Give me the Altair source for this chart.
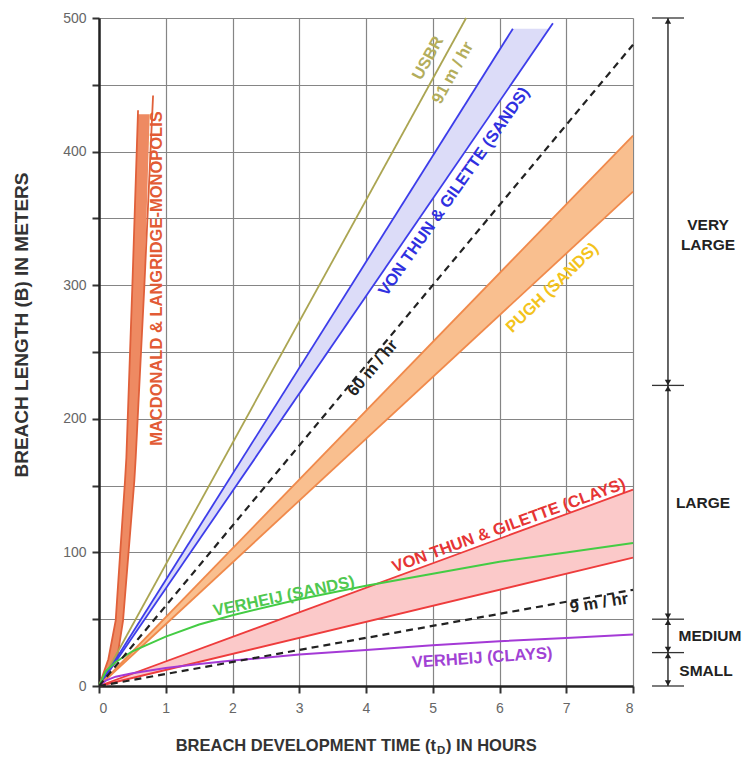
import altair as alt
import pandas as pd

# ---------------------------------------------------------------------------
# Breach length (m) against breach development time (hours)
# ---------------------------------------------------------------------------

# USBR relation
usbr_t = [0, 5.5]
usbr_b = [0, 500]

# Von Thun & Gillette, erosion-resistant / sands: two bounding lines
vtg_sands_hi_t = [0, 6.2]
vtg_sands_hi_b = [0, 492]
vtg_sands_lo_t = [0, 6.8]
vtg_sands_lo_b = [0, 496]
vtg_sands_band_t = [0, 6.2, 6.75]
vtg_sands_band_hi = [0, 492, 492]
vtg_sands_band_lo = [0, 452, 492]

# Reference erosion rates drawn dashed (m / hr)
rate_fast = 60
rate_slow = 9
rate_t = [0, 8]

# Pugh (sands)
pugh_t = [0, 8]
pugh_hi = [0, 412]
pugh_lo = [0, 370]

# Von Thun & Gillette (clays)
vtg_clays_t = [0, 8]
vtg_clays_hi = [0, 147]
vtg_clays_lo = [0, 96]

# Verheij curves
verheij_t = [0, 0.1, 0.25, 0.5, 1, 1.5, 2, 3, 4, 5, 6, 7, 8]
verheij_sands_b = [0, 11, 18, 26, 37, 46, 53, 65, 75, 84, 93, 100, 107]
verheij_clays_b = [0, 4, 7, 9.5, 13.5, 16.5, 19, 23.5, 27, 30.5, 33.5, 36, 38.5]

# MacDonald & Langridge-Monopolis band (steep, drawn against breach length)
mlm_band_b = [0, 20, 49, 154, 171, 300, 428]
mlm_band_left_t = [0, 0.14, 0.25, 0.39, 0.41, 0.50, 0.58]
mlm_band_right_t = [0, 0.27, 0.36, 0.53, 0.55, 0.68, 0.76]
mlm_left_t = [0, 0.14, 0.25, 0.39, 0.41, 0.50, 0.585]
mlm_left_b = [0, 20, 49, 154, 171, 300, 431]
mlm_right_t = [0, 0.27, 0.36, 0.53, 0.55, 0.68, 0.81]
mlm_right_b = [0, 20, 49, 154, 171, 300, 442]

# Breach size classes (m)
size_bounds = [0, 25, 50, 225, 500]
size_names = ["SMALL", "MEDIUM", "LARGE", "VERY\nLARGE"]

# ---------------------------------------------------------------------------
PLOT_W, PLOT_H = 534, 668
FONT = "Liberation Sans"
T_DOMAIN = [0, 8]
B_DOMAIN = [0, 500]

x_axis = alt.Axis(
    values=list(range(0, 9)), title=None, grid=True,
    tickSize=7, tickWidth=2, tickColor="#333",
    domainColor="#222", domainWidth=2.5,
    labelFontSize=14, labelColor="#666", labelFont=FONT, labelPadding=8,
    gridColor="#858585", gridWidth=1.2,
)
y_axis = alt.Axis(
    values=list(range(0, 501, 50)), title=None, grid=True,
    labelExpr="datum.value % 100 === 0 ? datum.label : ''",
    tickSize=7, tickWidth=2, tickColor="#333",
    domainColor="#222", domainWidth=2.5,
    labelFontSize=14, labelColor="#666", labelFont=FONT, labelPadding=6,
    gridColor="#858585", gridWidth=1.2,
)


def xe(field="t"):
    return alt.X(f"{field}:Q", scale=alt.Scale(domain=T_DOMAIN, nice=False, zero=False), axis=x_axis)


def ye(field="b"):
    return alt.Y(f"{field}:Q", scale=alt.Scale(domain=B_DOMAIN, nice=False, zero=False), axis=y_axis)


def line(ts, bs, color, width=1.8, dash=None):
    df = pd.DataFrame({"t": ts, "b": bs, "i": range(len(ts))})
    kw = dict(color=color, strokeWidth=width)
    if dash:
        kw["strokeDash"] = dash
    return alt.Chart(df).mark_line(**kw).encode(x=xe(), y=ye(), order="i:Q")


def band(ts, hi, lo, color):
    df = pd.DataFrame({"t": ts, "hi": hi, "lo": lo})
    return alt.Chart(df).mark_area(color=color, opacity=1).encode(
        x=xe(), y=ye("hi"), y2=alt.Y2("lo:Q"))


def label(t, b, text, color, angle=0, size=16.5, weight="bold", align="center"):
    df = pd.DataFrame({"t": [t], "b": [b], "txt": [text]})
    return alt.Chart(df).mark_text(
        angle=angle, fontSize=size, fontWeight=weight, color=color, font=FONT,
        align=align, baseline="middle", lineBreak="\n", lineHeight=20,
    ).encode(x=xe(), y=ye(), text="txt:N")


layers = []

# filled bands
layers.append(band(vtg_sands_band_t, vtg_sands_band_hi, vtg_sands_band_lo, "#dcdcf8"))
layers.append(band(pugh_t, pugh_hi, pugh_lo, "#f9bf8f"))
layers.append(band(vtg_clays_t, vtg_clays_hi, vtg_clays_lo, "#fbc9c9"))
mlm_df = pd.DataFrame({"b": mlm_band_b, "l": mlm_band_left_t, "r": mlm_band_right_t})
layers.append(
    alt.Chart(mlm_df).mark_area(orient="horizontal", color="#ee8a62", opacity=1).encode(
        y=ye("b"), x=xe("l"), x2=alt.X2("r:Q"))
)

# bounding lines and curves
layers.append(line(mlm_left_t, mlm_left_b, "#e0603a"))
layers.append(line(mlm_right_t, mlm_right_b, "#e0603a"))
layers.append(line(usbr_t, usbr_b, "#aba552"))
layers.append(line(vtg_sands_hi_t, vtg_sands_hi_b, "#3d3dea"))
layers.append(line(vtg_sands_lo_t, vtg_sands_lo_b, "#3d3dea"))
layers.append(line(pugh_t, pugh_hi, "#f08a4c"))
layers.append(line(pugh_t, pugh_lo, "#f08a4c"))
layers.append(line(vtg_clays_t, vtg_clays_hi, "#ee3c3c"))
layers.append(line(vtg_clays_t, vtg_clays_lo, "#ee3c3c"))
layers.append(line(verheij_t, verheij_sands_b, "#44cc44", width=2))
layers.append(line(verheij_t, verheij_clays_b, "#a43ad6", width=2))
layers.append(line(rate_t, [rate_fast * t for t in rate_t], "#222", width=2.2, dash=[7, 5]))
layers.append(line(rate_t, [rate_slow * t for t in rate_t], "#222", width=2.2, dash=[7, 5]))

# curve labels
layers.append(label(0.869, 305, "MACDONALD & LANGRIDGE-MONOPOLIS", "#e25b35", angle=270))
layers.append(label(4.93, 470, "USBR", "#b3ad5c", angle=299))
layers.append(label(5.30, 459, "91 m / hr", "#b3ad5c", angle=299))
layers.append(label(5.32, 370, "VON THUN & GILETTE (SANDS)", "#3030e0", angle=305))
layers.append(label(4.10, 238, "60 m / hr", "#222", angle=310))
layers.append(label(6.79, 298, "PUGH (SANDS)", "#f3c31c", angle=316))
layers.append(label(2.77, 67, "VERHEIJ (SANDS)", "#50c850", angle=348))
layers.append(label(6.14, 120, "VON THUN & GILETTE (CLAYS)", "#e63535", angle=340))
layers.append(label(7.49, 62, "9 m / hr", "#222", angle=351))
layers.append(label(5.74, 21, "VERHEIJ (CLAYS)", "#a142d4", angle=356))

# breach size scale at the right
SCALE_T = 8.524
scale_df = pd.DataFrame({"t": [SCALE_T], "b": [size_bounds[0]], "b2": [size_bounds[-1]]})
layers.append(alt.Chart(scale_df).mark_rule(color="#333", strokeWidth=1.5).encode(
    x=xe(), y=ye(), y2=alt.Y2("b2:Q")))
tick_df = pd.DataFrame({"t": [8.285] * len(size_bounds), "t2": [8.764] * len(size_bounds), "b": size_bounds})
layers.append(alt.Chart(tick_df).mark_rule(color="#333", strokeWidth=1.3).encode(
    x=xe(), x2=alt.X2("t2:Q"), y=ye()))
up_df = pd.DataFrame({"t": [SCALE_T] * 4, "b": size_bounds[1:]})
dn_df = pd.DataFrame({"t": [SCALE_T] * 4, "b": size_bounds[:-1]})
layers.append(alt.Chart(up_df).mark_point(shape="triangle-up", filled=True, size=40, color="#222",
                                          opacity=1, yOffset=3).encode(x=xe(), y=ye()))
layers.append(alt.Chart(dn_df).mark_point(shape="triangle-down", filled=True, size=40, color="#222",
                                          opacity=1, yOffset=-3).encode(x=xe(), y=ye()))
size_pos = [(9.094, 11), (9.154, 37.4), (9.049, 137), (9.124, 345)]
for (tt, bb), name in zip(size_pos, size_names):
    layers.append(label(tt, bb, name, "#222", size=15.5))

# axis titles
def title_text(px, py, text, size=16.5, align="center", angle=0):
    df = pd.DataFrame({"txt": [text]})
    return alt.Chart(df).mark_text(
        fontSize=size, fontWeight="bold", color="#333", font=FONT,
        align=align, baseline="middle", angle=angle,
    ).encode(x=alt.value(px), y=alt.value(py), text="txt:N")


layers.append(title_text(337, 728, "BREACH DEVELOPMENT TIME (t", align="right"))
layers.append(title_text(338, 733, "D", size=11.5, align="left"))
layers.append(title_text(347, 728, ") IN HOURS", align="left"))
layers.append(title_text(-77, 307, "BREACH LENGTH (B) IN METERS", size=19, angle=270))

chart = alt.layer(*layers).properties(
    width=PLOT_W, height=PLOT_H,
    autosize=alt.AutoSizeParams(type="none"),
    padding={"left": 99, "top": 18, "right": 111, "bottom": 72},
).configure_view(stroke="#333", strokeWidth=2).configure(background="white")

chart.save("out.html", embed_options={"renderer": "svg", "actions": False})
